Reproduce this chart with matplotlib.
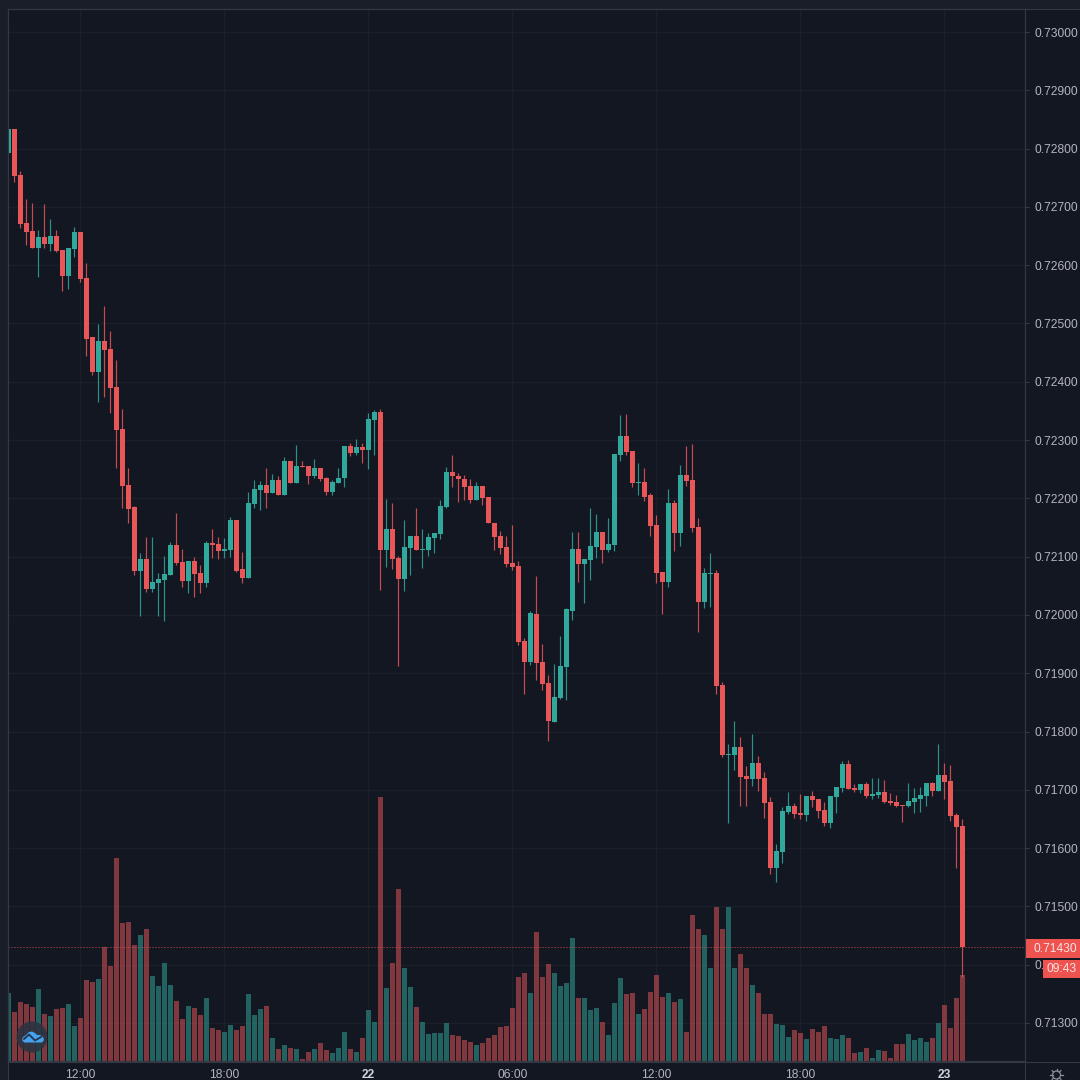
import matplotlib
matplotlib.use("Agg")
import matplotlib.pyplot as plt
from matplotlib.patches import Circle, Rectangle, Polygon
import numpy as np

# prices in units of 0.00001
opens = [72792,72834,72755,72672,72659,72630,72648,72636,72650,72626,72581,72628,72657,72578,72477,72417,72470,72456,72391,72319,
72223,72185,72075,72096,72044,72054,72060,72069,72120,72091,72058,72092,72072,72054,72123,72122,72110,72111,72163,72079,
72063,72190,72214,72223,72209,72232,72206,72264,72226,72256,72256,72238,72252,72235,72211,72226,72235,72290,72278,72288,
72283,72334,72348,72111,72147,72098,72061,72115,72136,72111,72111,72132,72139,72185,72245,72238,72233,72221,72197,72221,
72202,72158,72135,72117,72089,72084,71955,71919,72002,71919,71883,71816,71857,71911,72007,72113,72087,72094,72117,72142,
72111,72120,72274,72307,72281,72226,72228,72206,72154,72074,72056,72192,72141,72240,72232,72151,72022,72070,72072,71880,
71760,71760,71773,71724,71719,71746,71720,71679,71566,71593,71662,71672,71660,71657,71689,71684,71665,71643,71688,71703,
71744,71703,71700,71710,71689,71691,71696,71681,71679,71674,71672,71679,71684,71689,71712,71698,71725,71715,71657,71638]
highs = [72834,72834,72762,72713,72707,72660,72705,72679,72660,72626,72630,72666,72657,72604,72477,72499,72530,72487,72437,72353,
72252,72187,72106,72134,72134,72072,72101,72125,72175,72113,72092,72099,72086,72127,72147,72134,72132,72168,72163,72108,
72211,72232,72230,72252,72242,72238,72271,72264,72291,72264,72256,72267,72252,72237,72232,72252,72290,72295,72302,72295,
72346,72351,72353,72199,72192,72101,72163,72136,72184,72147,72141,72141,72197,72254,72274,72243,72240,72233,72228,72221,
72202,72158,72144,72135,72154,72092,71960,72007,72067,71950,71897,71916,71964,72012,72142,72142,72096,72184,72173,72142,
72166,72276,72343,72345,72281,72261,72252,72209,72171,72074,72216,72197,72257,72290,72293,72166,72081,72106,72077,71885,
71779,71818,71791,71741,71796,71758,71731,71688,71607,71670,71696,71677,71693,71689,71698,71684,71679,71689,71705,71749,
71751,71710,71710,71713,71720,71720,71717,71695,71691,71674,71712,71703,71705,71712,71713,71779,71746,71743,71660,71650]
lows = [72792,72743,72664,72635,72630,72580,72630,72624,72622,72556,72559,72614,72571,72444,72412,72365,72374,72346,72252,72184,
72158,72069,71998,72039,72039,71998,71990,72069,72086,72048,72038,72031,72038,72048,72098,72096,72098,72099,72074,72054,
72063,72184,72180,72184,72209,72206,72206,72226,72226,72254,72225,72235,72230,72206,72206,72226,72219,72273,72274,72261,
72250,72274,72043,72082,72079,71912,72041,72069,72111,72081,72101,72106,72130,72184,72219,72194,72197,72192,72197,72189,
72157,72111,72105,72082,72077,71948,71864,71914,71888,71871,71784,71816,71856,71854,71991,72056,72020,72060,72098,72089,
72108,72110,72264,72274,72219,72206,72195,72135,72054,72002,72048,72110,72118,72221,72142,71971,72012,72014,71864,71756,
71643,71734,71672,71672,71706,71698,71652,71556,71542,71574,71659,71652,71650,71646,71670,71652,71638,71634,71660,71696,
71701,71696,71695,71686,71684,71686,71677,71674,71670,71645,71670,71660,71662,71672,71689,71698,71684,71646,71566,71379]
closes = [72834,72753,72671,72657,72630,72648,72636,72650,72624,72581,72630,72657,72576,72473,72417,72470,72455,72389,72317,72221,
72182,72075,72096,72044,72056,72061,72070,72120,72089,72058,72092,72070,72054,72123,72120,72110,72113,72163,72075,72063,
72192,72216,72223,72209,72232,72206,72264,72226,72256,72254,72238,72252,72233,72211,72228,72235,72290,72278,72288,72283,
72336,72348,72111,72147,72096,72061,72117,72136,72111,72113,72134,72141,72187,72245,72238,72233,72219,72197,72221,72200,
72157,72134,72115,72087,72082,71954,71919,72003,71917,71881,71818,71859,71912,72010,72113,72087,72096,72118,72142,72111,
72122,72276,72307,72280,72226,72228,72202,72153,72072,72056,72192,72141,72240,72230,72149,72022,72072,72072,71878,71760,
71761,71773,71722,71719,71746,71719,71677,71566,71595,71664,71672,71659,71657,71689,71682,71664,71643,71689,71705,71744,
71701,71700,71710,71689,71693,71696,71679,71677,71672,71672,71681,71686,71691,71712,71698,71725,71713,71655,71636,71430]
volumes = [68,49,59,57,54,72,47,45,52,53,57,35,43,81,79,82,114,95,203,138,
139,116,126,132,85,75,98,76,60,42,55,53,46,63,33,31,29,36,31,35,
67,46,52,55,23,12,16,13,12,2,9,12,18,11,8,13,29,12,9,23,
51,39,264,73,98,172,93,74,54,39,27,28,28,38,26,25,21,19,16,18,
23,26,34,35,53,84,88,68,129,84,97,88,75,78,123,63,63,51,53,39,
26,58,83,67,68,47,52,69,86,64,68,59,62,29,146,132,126,93,154,132,
154,93,107,93,76,68,47,47,37,36,24,31,28,22,32,29,35,23,22,26,
23,8,9,13,3,11,10,3,17,17,27,21,23,19,23,38,56,33,63,86]
price_ticks = [73000,72900,72800,72700,72600,72500,72400,72300,72200,72100,72000,71900,71800,71700,71600,71500,71400,71300]
price_tick_labels = ["0.73000","0.72900","0.72800","0.72700","0.72600","0.72500","0.72400","0.72300","0.72200","0.72100",
                     "0.72000","0.71900","0.71800","0.71700","0.71600","0.71500","0.71400","0.71300"]
time_ticks = [12,36,60,84,108,132,156]
time_labels = ["12:00","18:00","22","06:00","12:00","18:00","23"]
last_price = 71430
last_price_label = "0.71430"
countdown = "09:43"

BG = "#131722"; STRIP = "#1a1e28"; GRID = "#1b1f2a"; BORDER = "#343843"; TXT = "#b2b5be"
UP = "#30a89c"; DOWN = "#e85658"; LABEL = "#ef5350"
plt.rcParams["font.family"] = ["Liberation Sans", "DejaVu Sans"]

fig = plt.figure(figsize=(10.8, 10.8), dpi=100, facecolor=BG)
W = H = 1080.0
ax = fig.add_axes([8/W, 19/H, 1017/W, 1052/H], facecolor=BG)
vax = ax.twinx()
ax.set_zorder(2); vax.set_zorder(1)
ax.patch.set_visible(False); vax.patch.set_visible(True); vax.patch.set_facecolor(BG)

o, h, l, c = [np.array(a) / 1e5 for a in (opens, highs, lows, closes)]
x = np.arange(len(opens))
up = c >= o
cols = np.where(up, UP, DOWN)

ax.set_xlim(-0.05, 169.45)
ax.set_ylim(0.712348, 0.730395)
vax.set_ylim(0, 1052)

vax.bar(x, volumes, width=0.84, color=cols, alpha=0.52, linewidth=0, zorder=2)
vax.set_yticks([])
for t in time_ticks:
    vax.axvline(t, color=GRID, lw=1, zorder=1)
for p in price_ticks:
    vax.plot([-1, 171], [(p/1e5 - 0.712348)/(0.730395-0.712348)*1052]*2, color=GRID, lw=1, zorder=1)
vax.set_xlim(-0.05, 169.45)

ax.vlines(x, l, h, colors=cols, lw=0.85, alpha=0.85, zorder=3)
ax.bar(x, np.abs(c-o), bottom=np.minimum(o, c), width=0.84, color=cols, linewidth=0, zorder=4)
ax.axhline(last_price/1e5, color="#c94e50", lw=0.72, ls=(0, (1, 2)), dash_capstyle="butt", zorder=5)

ax.yaxis.tick_right()
ax.set_yticks([p/1e5 for p in price_ticks])
ax.set_yticklabels(price_tick_labels, color=TXT, fontsize=8.64)
ax.tick_params(axis="y", length=3, width=0.8, color=BORDER, pad=3.6)
ax.set_xticks(time_ticks)
ax.set_xticklabels(time_labels, color=TXT, fontsize=8.64)
for lab, s in zip(ax.get_xticklabels(), time_labels):
    if ":" not in s:
        lab.set_fontweight("bold"); lab.set_color("#d1d4dc")
ax.tick_params(axis="x", length=0, pad=5.8)
for a in (ax, vax):
    for s in a.spines.values():
        s.set_color(BORDER); s.set_linewidth(0.8)
vax.tick_params(axis="x", length=0, labelbottom=False)

# overlay in pixel coordinates
ov = fig.add_axes([0, 0, 1, 1], facecolor="none", zorder=10)
ov.set_xlim(0, W); ov.set_ylim(H, 0); ov.axis("off")
under = fig.add_axes([0, 0, 1, 1], facecolor="none", zorder=0)
under.set_xlim(0, W); under.set_ylim(H, 0); under.axis("off")
under.add_patch(Rectangle((0, 0), 8, H, color=STRIP, lw=0))
under.add_patch(Rectangle((0, 0), W, 9, color=STRIP, lw=0))
ov.plot([8, 8], [9, H], color=BORDER, lw=0.8)
ov.plot([1025, 1025], [9, H], color=BORDER, lw=0.8)
ov.plot([8, W], [9, 9], color=BORDER, lw=0.8)
ov.plot([8, W], [1061.5, 1061.5], color=BORDER, lw=0.8)
ov.add_patch(Rectangle((1025, 939), 55, 19, color=LABEL, lw=0))
ov.text(1055.5, 949, last_price_label, color="#f8e4e2", fontsize=8.64, ha="center", va="center")
ov.add_patch(Rectangle((1043, 960), 37, 18, color=LABEL, lw=0))
ov.text(1062, 969, countdown, color="#f8e4e2", fontsize=8.64, ha="center", va="center")
# gear
ov.add_patch(Circle((1056.5, 1075), 4.0, fill=False, ec="#8a8e99", lw=0.9))
for ang in np.arange(0, 360, 45):
    a = np.deg2rad(ang)
    ov.plot([1056.5+4.0*np.cos(a), 1056.5+6.2*np.cos(a)], [1075+4.0*np.sin(a), 1075+6.2*np.sin(a)], color="#8a8e99", lw=0.9)
# logo
ov.add_patch(Circle((32, 1037), 15.5, color="#2a3442", alpha=0.88, lw=0))
ov.add_patch(Polygon([(22,1040),(23,1037),(26,1035),(29,1032),(32,1031.5),(35,1033),(37,1035),(40,1035),(43,1037),(44,1040),
                      (42,1042.5),(24,1042.5)], closed=True, color="#45a2ee", lw=0))
ov.plot([24,29,35,41], [1039,1034.5,1040.5,1037], color="#24344a", lw=1.3)
fig.savefig("out.png", dpi=100, facecolor=fig.get_facecolor())
